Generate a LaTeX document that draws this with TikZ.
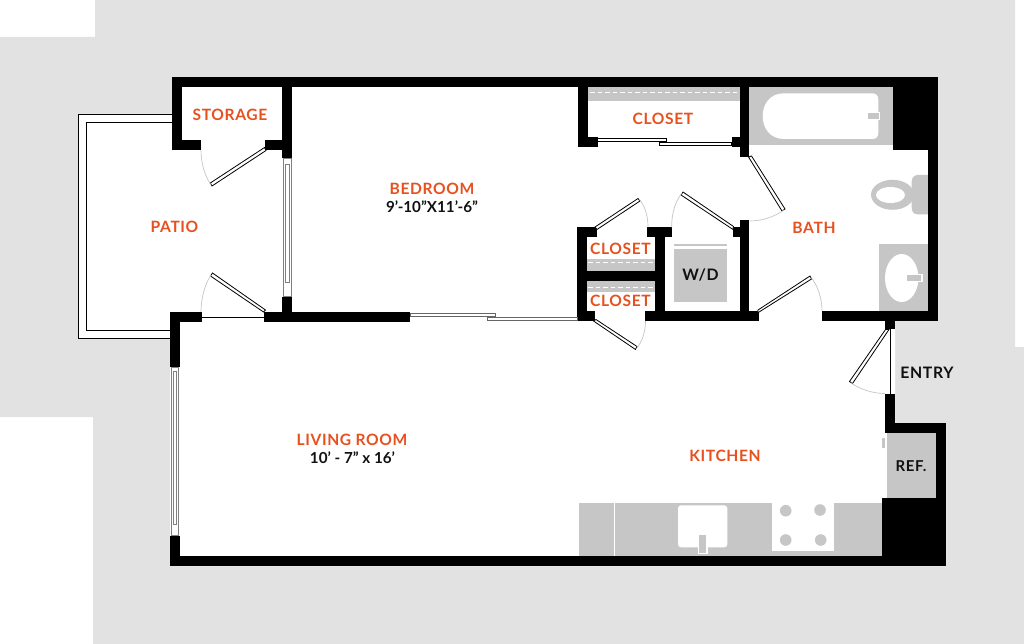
\documentclass[tikz,border=0pt]{standalone}
\usepackage{fontspec}
\setmainfont{Lato}
\newfontfamily\labelfont[LetterSpace=4,BoldFont=Lato Bold]{Lato}
\newfontfamily\dimfont[BoldFont=Lato Bold]{Lato}
\definecolor{bggray}{HTML}{E2E2E2}
\definecolor{fixture}{HTML}{C6C6C6}
\definecolor{roomorange}{HTML}{E8501E}
\definecolor{textdark}{HTML}{111111}
\tikzset{
  wallfill/.style={fill=black,draw=none},
  fixturefill/.style={fill=fixture,draw=none},
  room/.style={text=roomorange,font=\labelfont\bfseries\fontsize{15.6}{17}\selectfont,inner sep=0pt},
  dims/.style={text=textdark,font=\dimfont\bfseries\fontsize{15.2}{17}\selectfont,inner sep=0pt},
  darklabel/.style={text=textdark,font=\labelfont\bfseries\fontsize{15.8}{17}\selectfont,inner sep=0pt},
  smalldark/.style={text=textdark,font=\labelfont\bfseries\fontsize{15}{17}\selectfont,inner sep=0pt},
  leaf/.style={draw=black,fill=white,line width=0.8pt},
  thinline/.style={draw=black,line width=0.8pt},
  swing/.style={draw=fixture,line width=0.7pt},
  shelfdash/.style={draw=white,line width=0.8pt,dash pattern=on 4.5pt off 3pt},
  glass/.style={draw=black!50,line width=0.7pt,fill=white}
}
\begin{document}
\begin{tikzpicture}[x=1pt,y=-1pt]
\useasboundingbox (0,0) rectangle (1024,644);
% page + gray ground
\fill[white] (0,0) rectangle (1024,644);
\fill[bggray] (95,0) -- (1015,0) -- (1015,347) -- (1024,347) -- (1024,644) -- (93,644) -- (93,417) -- (0,417) -- (0,37) -- (95,37) -- cycle;
% white interior
\fill[white] (172,77.5) -- (938,77.5) -- (938,321) -- (895,321) -- (895,423) -- (946,423) -- (946,566) -- (170,566) -- (170,339) -- (78,339) -- (78,114) -- (172,114) -- cycle;
% patio rails
\draw[thinline] (172,114.5) -- (78.3,114.5) -- (78.3,338.5) -- (170,338.5);
\draw[thinline] (172,122.5) -- (86.5,122.5) -- (86.5,330.5) -- (170,330.5);
% fixtures
\fill[fixturefill] (588,87) rectangle (740,101.5);
\draw[shelfdash] (590,92.3) -- (740,92.3);
\fill[fixturefill] (587,258.5) rectangle (655,271);
\draw[shelfdash] (588,262.5) -- (655,262.5);
\fill[fixturefill] (587,281) rectangle (655,291.5);
\draw[shelfdash] (588,287.3) -- (655,287.3);
\fill[fixturefill] (674,248.5) rectangle (726.7,301.7);
\fill[fixturefill] (674,244.2) rectangle (726.7,246);
% tub
\fill[fixturefill] (749.3,87) rectangle (892.7,145.3);
\fill[white] (784,93.3) -- (872,93.3) .. controls (876,93.3) and (878.3,95.5) .. (878.3,99.5) -- (878.3,133) .. controls (878.3,137) and (876,139) .. (872,139) -- (784,139) .. controls (770,139) and (762.7,128) .. (762.7,116) .. controls (762.7,104) and (770,93.3) .. (784,93.3) -- cycle;
\fill[white] (867,112) rectangle (880,120);
\fill[fixturefill] (868,113.3) rectangle (878.6,118.7);
% toilet
\fill[fixturefill] (928,175) -- (918,175) .. controls (913.5,175) and (911.7,178) .. (911.7,182) -- (911.7,207) .. controls (911.7,212) and (913.5,214.3) .. (918,214.3) -- (928,214.3) -- cycle;
\fill[fixturefill] (892.5,194.8) ellipse[x radius=21.5,y radius=15];
\fill[white] (890.5,195) ellipse[x radius=14.5,y radius=8];
% vanity
\fill[fixturefill] (879,244) rectangle (928,311);
\fill[white] (901.7,278) ellipse[x radius=16.7,y radius=24];
\fill[white] (905.5,273.7) rectangle (922.5,282);
\fill[fixturefill] (906.7,275) rectangle (921.3,281);
% kitchen counter
\fill[fixturefill] (578.6,502.7) rectangle (882,556);
\draw[white,line width=0.6pt] (614,502.7) -- (614,556);
\fill[white,rounded corners=3pt] (678,505.3) rectangle (727.3,547.3);
\fill[white] (697.5,540) rectangle (708,554.3);
\fill[fixturefill] (699.3,534.5) rectangle (706.3,552.7);
\fill[white] (771.7,500.3) rectangle (834.3,550.7);
\foreach \bx/\by in {785.7/510.7,820/510,785.7/540,820.7/540}
  \fill[fixturefill] (\bx,\by) circle[radius=5.8];
% fridge
\fill[fixturefill] (886.7,433.3) rectangle (936,498.3);
\fill[fixturefill] (882,438) rectangle (885,448);
% walls
\fill[wallfill] (172,77.5) rectangle (938,87.3);
\fill[wallfill] (172,77.5) rectangle (181.7,150);
\fill[wallfill] (172,140) rectangle (201.3,150);
\fill[wallfill] (282.3,77.5) rectangle (291.7,158.3);
\fill[wallfill] (264.7,140) rectangle (282.3,150);
\fill[wallfill] (282.3,296.7) rectangle (291.7,322);
\fill[wallfill] (264,312) rectangle (410,322);
\fill[wallfill] (170,312) rectangle (180,367);
\fill[wallfill] (170,312) rectangle (201.8,322);
\fill[wallfill] (170,535.7) rectangle (180,566);
\fill[wallfill] (170,556) rectangle (946,566);
\fill[wallfill] (578.3,87) rectangle (588.3,147);
\fill[wallfill] (578.3,137) rectangle (597.7,147);
\fill[wallfill] (740,87) rectangle (749.3,157.3);
\fill[wallfill] (731.7,137) rectangle (740,147);
\fill[wallfill] (892.7,77.5) rectangle (938,150);
\fill[wallfill] (928,77.5) rectangle (938,321);
\fill[wallfill] (740,220) rectangle (749.3,321);
\fill[wallfill] (732.7,227.3) rectangle (740,236.5);
\fill[wallfill] (646.7,227.3) rectangle (672.3,237.3);
\fill[wallfill] (655.3,227.3) rectangle (665,321);
\fill[wallfill] (576.7,227.3) rectangle (586.7,321);
\fill[wallfill] (576.7,227.3) rectangle (596.7,237.3);
\fill[wallfill] (576.7,311) rectangle (594.7,321);
\fill[wallfill] (586,271) rectangle (656,280.7);
\fill[wallfill] (645,311) rectangle (759,321);
\fill[wallfill] (821.7,311) rectangle (938,321);
\fill[wallfill] (885,321) rectangle (894.7,329.3);
\fill[wallfill] (885,393.5) rectangle (894.7,433.3);
\fill[wallfill] (885,423.3) rectangle (946,433.3);
\fill[wallfill] (936,423.3) rectangle (946,566);
\fill[wallfill] (881.7,498.3) rectangle (946,566);
% windows
\draw[glass] (283.6,158.3) rectangle (291.2,296.7);
\draw[glass] (285.5,164) rectangle (289.5,282);
\draw[glass] (171,367) rectangle (178.5,535.7);
\draw[glass] (173,371) rectangle (176.5,524);
% sliders
\draw[leaf,draw=black!60] (410,313.3) rectangle (495,316.3);
\draw[leaf,draw=black!60] (487,317.3) rectangle (577,320.5);
\draw[leaf] (597.7,138.3) rectangle (666,141.7);
\draw[leaf] (659.3,142.3) rectangle (731.7,145.3);
% thresholds
\draw[thinline] (201.8,317.3) -- (264,317.3);
\draw[thinline] (890,329.3) -- (890,393.5);
% door leaves
\draw[leaf] (264.5,147.5) -- (266,150.5) -- (212,186) -- (210.3,183) -- cycle;
\draw[leaf] (210.5,276) -- (212.5,273) -- (265.5,310) -- (263.5,312) -- cycle;
\draw[leaf] (748.5,157) -- (751.5,156) -- (785,209) -- (782,211) -- cycle;
\draw[leaf] (733.5,226.5) -- (733,229.5) -- (681,195) -- (683,192) -- cycle;
\draw[leaf] (595,227) -- (597,229.5) -- (640,201) -- (638,198.5) -- cycle;
\draw[leaf] (758,310) -- (757.5,313) -- (811.5,279) -- (810,276) -- cycle;
\draw[leaf] (593.5,321) -- (596,319.5) -- (637,346.5) -- (635.5,349.5) -- cycle;
\draw[leaf] (889,329.5) -- (885.5,329.5) -- (849.5,381.5) -- (852.5,383.5) -- cycle;
% swings
\draw[swing] (201,150) .. controls (201,164) and (205,176) .. (211,185);
\draw[swing] (201,312) .. controls (201,298) and (205,284) .. (211,275);
\draw[swing] (784,210) .. controls (774,217) and (762,221) .. (749.5,221);
\draw[swing] (681.7,193.3) .. controls (675,202) and (671.5,214) .. (671.7,227.3);
\draw[swing] (639.3,199.3) .. controls (645,206) and (648,216) .. (648,227.3);
\draw[swing] (811,277) .. controls (817,285) and (822,297) .. (822,311);
\draw[swing] (636.5,348.5) .. controls (642,342) and (645.5,332) .. (645.5,321);
\draw[swing] (851,383) .. controls (860,389) and (872,393.5) .. (885,393.5);
% labels
\node[room] (storage) at (230,114.5) {STORAGE};
\node[room] (patio) at (174.5,227) {PATIO};
\node[room] (bedroom) at (432,189) {BEDROOM};
\node[dims] (beddim) at (432,207) {9’-10”X11’-6”};
\node[room] (closettop) at (663,118.5) {CLOSET};
\node[room] (closetmid) at (620.5,249) {CLOSET};
\node[room] (closetlow) at (620.5,301) {CLOSET};
\node[darklabel] (wd) at (700.5,275) {W/D};
\node[room] (bath) at (814,228) {BATH};
\node[darklabel] (entry) at (927,373) {ENTRY};
\node[room] (living) at (352,439.5) {LIVING ROOM};
\node[dims] (livdim) at (352.5,458) {10’ - 7” x 16’};
\node[room] (kitchen) at (725,456) {KITCHEN};
\node[smalldark] (ref) at (911,466) {REF.};
\end{tikzpicture}
\end{document}
